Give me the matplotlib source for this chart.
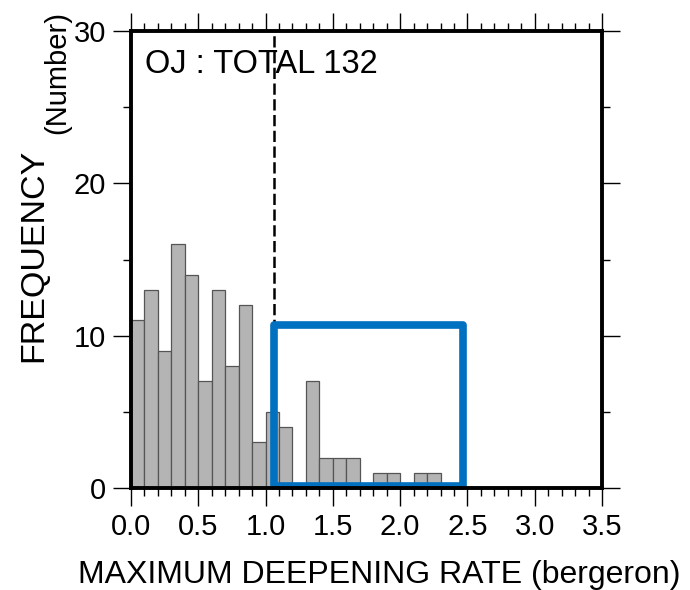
import matplotlib
matplotlib.use("Agg")
import matplotlib.pyplot as plt
from matplotlib.patches import Rectangle
from matplotlib.ticker import MultipleLocator
import numpy as np

plt.rcParams['font.family'] = ['Liberation Sans', 'DejaVu Sans']

# Data
bin_left = [0.0, 0.1, 0.2, 0.3, 0.4, 0.5, 0.6, 0.7, 0.8, 0.9, 1.0, 1.1,
            1.2, 1.3, 1.4, 1.5, 1.6, 1.7, 1.8, 1.9, 2.0, 2.1, 2.2]
counts = [11, 13, 9, 16, 14, 7, 13, 8, 12, 3, 5, 4,
          0, 7, 2, 2, 2, 0, 1, 1, 0, 1, 1]
bin_width = 0.1
threshold = 1.06
box_x = [1.06, 2.47]
box_y = [0.15, 10.7]
title_text = "OJ : TOTAL 132"
xticks = [0.0, 0.5, 1.0, 1.5, 2.0, 2.5, 3.0, 3.5]
yticks = [0, 10, 20, 30]

fig = plt.figure(figsize=(6.9, 5.9), dpi=100)
ax = fig.add_axes([131/690, 1-488/590, (602-131)/690, (488-31)/590])

ax.bar(bin_left, counts, width=bin_width, align='edge',
       color='#b4b4b4', edgecolor='#555555', linewidth=0.9, zorder=2)

ax.plot([threshold, threshold], [0, 30], color='black', lw=1.8,
        linestyle=(0, (4.5, 1.8)), zorder=3)

rect = Rectangle((box_x[0], box_y[0]), box_x[1]-box_x[0], box_y[1]-box_y[0],
                 fill=False, edgecolor='#0070C0', lw=5.5, joinstyle='round',
                 clip_on=False, zorder=4)
ax.add_patch(rect)

ax.set_xlim(0, 3.5)
ax.set_ylim(0, 30)
ax.set_xticks(xticks)
ax.set_xticklabels([f"{v:.1f}" for v in xticks])
ax.set_yticks(yticks)
ax.xaxis.set_minor_locator(MultipleLocator(0.1))
ax.yaxis.set_minor_locator(MultipleLocator(5))

ax.tick_params(which='both', direction='out', top=True, right=True,
               labeltop=False, labelright=False, width=1.0, colors='black')
ax.tick_params(which='major', length=13, pad=5, labelsize=21)
ax.tick_params(which='minor', length=6)

for sp in ax.spines.values():
    sp.set_linewidth(2.8)
    sp.set_zorder(5)

ax.text(0.03, 0.96, title_text, transform=ax.transAxes, fontsize=23.5,
        ha='left', va='top')

fig.text(379/690, 1-575/590, "MAXIMUM DEEPENING RATE (bergeron)",
         fontsize=23, ha='center', va='center')
fig.text(34/690, 1-255/590, "FREQUENCY", fontsize=24.5, rotation=90,
         ha='center', va='center')
fig.text(57/690, 1-72/590, "(Number)", fontsize=21, rotation=90,
         ha='center', va='center')

fig.savefig("out.png", dpi=100)
